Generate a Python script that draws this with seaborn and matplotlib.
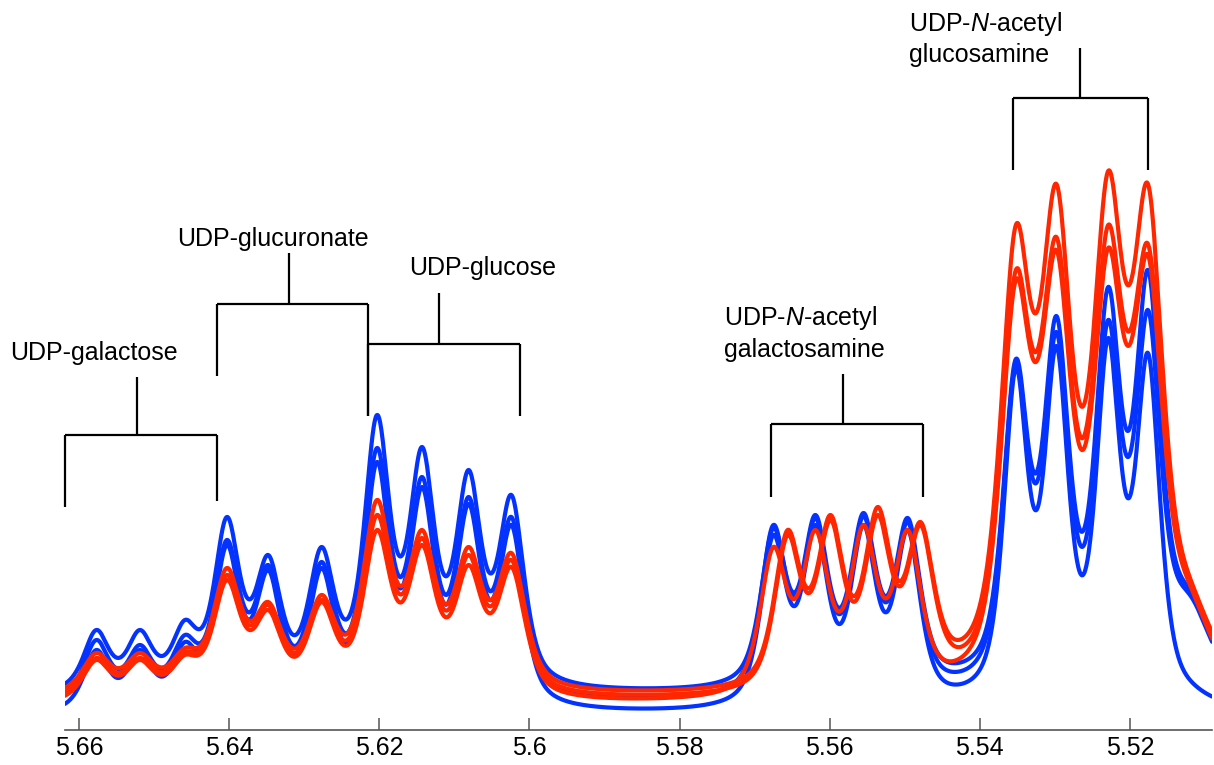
import numpy as np
import pandas as pd
import matplotlib
matplotlib.use('Agg')
import matplotlib.pyplot as plt
import seaborn as sns

# axis ticks
tick_ppm = [5.66, 5.64, 5.62, 5.60, 5.58, 5.56, 5.54, 5.52]
tick_labels = ['5.66', '5.64', '5.62', '5.6', '5.58', '5.56', '5.54', '5.52']

# peak positions (ppm)
blue_ppm = [5.6577, 5.6519, 5.6459, 5.6403, 5.6348, 5.6277, 5.6203, 5.6143, 5.6081, 5.6024,
            5.5675, 5.5619, 5.5555, 5.5496,
            5.5352, 5.5298, 5.5229, 5.5176, 5.5120]
red_ppm_shifted = [5.6577, 5.6519, 5.6459, 5.6403, 5.6348, 5.6277, 5.6203, 5.6143, 5.6081, 5.6024,
                   5.5656, 5.5599, 5.5536, 5.5479,
                   5.5352, 5.5298, 5.5229, 5.5176, 5.5120]
# half widths at half height (ppm); last one is the broad shoulder right of GlcNAc
blue_hw = [0.0020] * 10 + [0.0020] * 4 + [0.0020] * 4 + [0.0035]
blue_3_hw = [0.0020] * 10 + [0.0020] * 4 + [0.0019] * 4 + [0.0035]
red_hw = [0.0022] * 10 + [0.0021] * 4 + [0.0024] * 4 + [0.0035]

# peak-top intensities (a.u., 0 = axis line), one list per spectrum
blue_1 = [100, 100, 110, 213, 175, 183, 315, 283, 260, 235, 202, 215, 217, 212, 371, 414, 443, 460, 140]
blue_2 = [90, 85, 95, 190, 165, 168, 282, 253, 233, 213, 205, 212, 214, 208, 366, 398, 410, 420, 135]
blue_3 = [80, 80, 88, 185, 160, 162, 268, 243, 226, 205, 195, 205, 205, 200, 362, 384, 392, 377, 50]
red_1 = [77, 77, 82, 162, 128, 135, 230, 200, 183, 177, 200, 215, 223, 208, 505, 546, 559, 546, 152]
red_2 = [72, 72, 78, 155, 125, 130, 215, 192, 175, 170, 195, 210, 215, 205, 460, 493, 505, 486, 148]
red_3 = [70, 70, 75, 150, 120, 128, 200, 185, 165, 163, 183, 200, 205, 200, 450, 480, 482, 475, 145]

# flat baseline level under each spectrum (a.u.)
baselines = {'blue_1': 34, 'blue_2': 25, 'blue_3': 14, 'red_1': 32, 'red_2': 28, 'red_3': 24}

spectra = {
    'blue_1': (blue_ppm, blue_hw, blue_1),
    'blue_2': (blue_ppm, blue_hw, blue_2),
    'blue_3': (blue_ppm, blue_3_hw, blue_3),
    'red_1': (red_ppm_shifted, red_hw, red_1),
    'red_2': (red_ppm_shifted, red_hw, red_2),
    'red_3': (blue_ppm, red_hw, red_3),
}

# annotation labels
labels = ['UDP-galactose', 'UDP-glucuronate', 'UDP-glucose']
labels_two_line = [(r'UDP-$\it{N}$-acetyl', 'galactosamine'), (r'UDP-$\it{N}$-acetyl', 'glucosamine')]

BLUE = '#0433FF'
RED = '#FF2600'


def lineshape(dx, hw, eta=0.62):
    u = (dx / hw) ** 2
    return eta / (1 + u) + (1 - eta) * np.exp(-np.log(2) * u)


x = np.linspace(5.6625, 5.5085, 3000)
rows = []
for name, (pos, hw, heights) in spectra.items():
    pos = np.array(pos)
    hw = np.array(hw)
    base = baselines[name]
    # amplitudes so the curve passes through the read peak tops
    m = lineshape(pos[:, None] - pos[None, :], hw[None, :])
    amp = np.linalg.solve(m, np.array(heights, float) - base)
    y = base + lineshape(x[:, None] - pos[None, :], hw[None, :]) @ amp
    rows.append(pd.DataFrame({'ppm': x, 'intensity': y, 'trace': name}))
df = pd.concat(rows, ignore_index=True)

sns.set_theme(style='white')
plt.rcParams['font.family'] = ['Liberation Sans', 'DejaVu Sans']
plt.rcParams['mathtext.fontset'] = 'custom'
plt.rcParams['mathtext.rm'] = 'Liberation Sans'
plt.rcParams['mathtext.it'] = 'Liberation Sans:italic'

fig = plt.figure(figsize=(12.14, 7.65), dpi=100)
ax = fig.add_axes([65 / 1214, 35 / 765, 1147 / 1214, 730 / 765])

palette = {k: (BLUE if k.startswith('blue') else RED) for k in spectra}
sns.lineplot(data=df, x='ppm', y='intensity', hue='trace', palette=palette,
             estimator=None, linewidth=3, legend=False, ax=ax)

ax.set_xlim(5.66187, 5.50907)
ax.set_ylim(0, 730)
ax.set_xlabel('')
ax.set_ylabel('')
ax.set_yticks([])
ax.set_xticks(tick_ppm)
ax.set_xticklabels(tick_labels)
for s in ['top', 'left', 'right']:
    ax.spines[s].set_visible(False)
ax.spines['bottom'].set_color('#555555')
ax.spines['bottom'].set_linewidth(1.2)
ax.tick_params(axis='x', direction='in', length=8.5, width=1.1, color='#555555',
               labelsize=18, labelcolor='black', pad=4.5, bottom=True)


def bracket(left, right, bar, stem, top, lbot, rbot):
    kw = dict(color='black', lw=1.6, clip_on=False, solid_capstyle='butt')
    ax.plot([left, right], [bar, bar], **kw)
    ax.plot([left, left], [bar, lbot], **kw)
    ax.plot([right, right], [bar, rbot], **kw)
    ax.plot([stem, stem], [bar, top], **kw)


bracket(5.66187, 5.6416, 295, 5.65227, 353, 223, 229)
bracket(5.6416, 5.62147, 426, 5.6320, 477, 354, 314)
bracket(5.62147, 5.6012, 386, 5.6120, 437, 314, 314)
bracket(5.56787, 5.5476, 306, 5.55827, 356, 233, 233)
bracket(5.5356, 5.5176, 632, 5.5267, 682, 560, 560)

tkw = dict(fontsize=18, ha='left', va='baseline', color='black', clip_on=False)
ax.text(5.6692, 370, labels[0], **tkw)
ax.text(5.64693, 484, labels[1], **tkw)
ax.text(5.6160, 455, labels[2], **tkw)
ax.text(5.57413, 405, labels_two_line[0][0], **tkw)
ax.text(5.57413, 373, labels_two_line[0][1], **tkw)
ax.text(5.54947, 699, labels_two_line[1][0], **tkw)
ax.text(5.54947, 668, labels_two_line[1][1], **tkw)

fig.savefig('out.png', dpi=100)
